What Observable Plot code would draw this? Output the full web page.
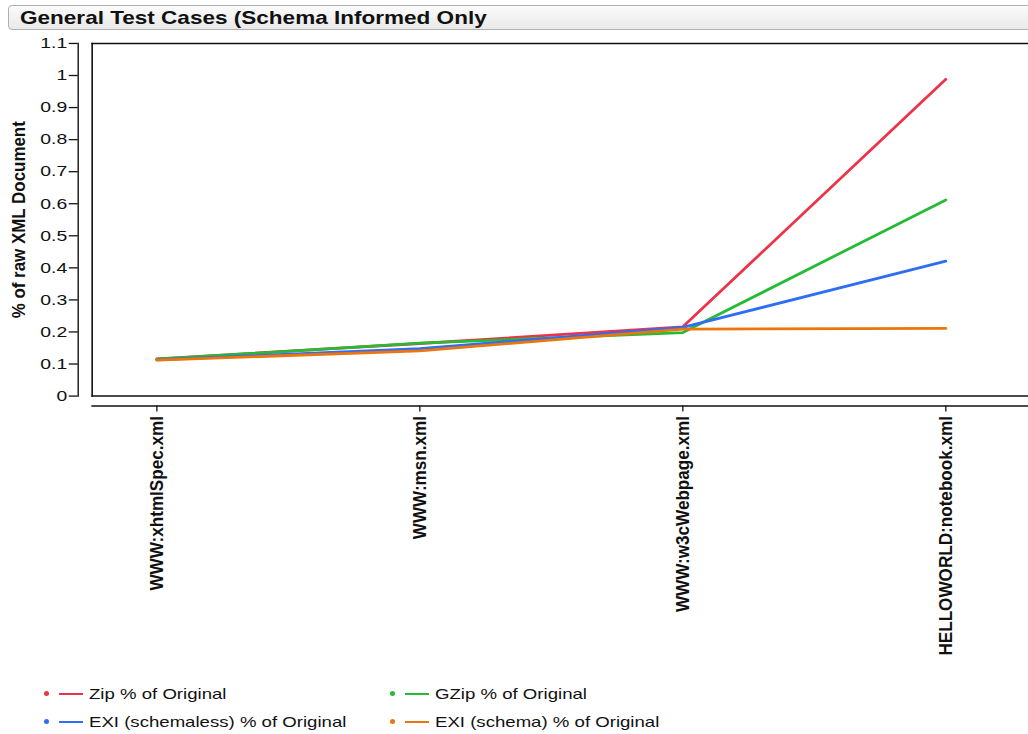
<!DOCTYPE html>
<html>
<head>
<meta charset="utf-8">
<script src="https://cdn.jsdelivr.net/npm/d3@7"></script>
<script src="https://cdn.jsdelivr.net/npm/@observablehq/plot@0.6"></script>
<style>
  html, body { margin: 0; padding: 0; background: #fff; }
  #wrap { position: relative; width: 1028px; height: 734px; overflow: hidden; font-family: "Liberation Sans", Arial, sans-serif; }
  #title { position: absolute; left: 8px; top: 5px; width: 1030px; height: 25px; box-sizing: border-box;
    border: 1px solid #b0b0b0; border-radius: 4px; background: linear-gradient(#fbfbfb, #e9e9e9);
    font-weight: bold; font-size: 19px; line-height: 23px; padding-left: 11px; color: #111; }
  #title span { display: inline-block; transform: scaleX(1.186); transform-origin: 0 50%; }
  #chart { position: absolute; left: 0; top: 30px; }
  .leg { position: absolute; display: flex; align-items: center; font-size: 15px; color: #111; }
  .leg .dot { width: 5px; height: 5px; border-radius: 50%; margin-right: 10px; }
  .leg .ln { width: 24px; height: 2px; margin-right: 6px; }
  .leg .tx { display: inline-block; transform: scaleX(1.24); transform-origin: 0 50%; }
</style>
</head>
<body>
<div id="wrap">
  <div id="title"><span>General Test Cases (Schema Informed Only</span></div>
  <div id="chart"></div>
  <div id="legend"></div>
</div>
<script>
const files = ["WWW:xhtmlSpec.xml", "WWW:msn.xml", "WWW:w3cWebpage.xml", "HELLOWORLD:notebook.xml"];
const seriesNames = ["Zip % of Original", "GZip % of Original", "EXI (schemaless) % of Original", "EXI (schema) % of Original"];
const seriesColors = ["#ec3348", "#25bb35", "#2f6df4", "#ea760c"];
const zipValues = [0.116, 0.164, 0.216, 0.988];
const gzipValues = [0.115, 0.165, 0.198, 0.612];
const exiSchemalessValues = [0.113, 0.148, 0.214, 0.421];
const exiSchemaValues = [0.112, 0.141, 0.209, 0.211];
const yTicks = [0, 0.1, 0.2, 0.3, 0.4, 0.5, 0.6, 0.7, 0.8, 0.9, 1, 1.1];
const yLabel = "% of raw XML Document";

const allValues = [zipValues, gzipValues, exiSchemalessValues, exiSchemaValues];
const data = [];
seriesNames.forEach((s, i) => files.forEach((f, j) => data.push({series: s, file: f, value: allValues[i][j]})));

const chart = Plot.plot({
  width: 1032, height: 640,
  marginLeft: 92, marginRight: 0, marginTop: 13, marginBottom: 273,
  style: {fontFamily: "'Liberation Sans', Arial, sans-serif", color: "#111", background: "transparent"},
  x: {type: "point", domain: files, padding: 0, insetLeft: 65, insetRight: 83},
  y: {domain: [0, 1.1]},
  color: {domain: seriesNames, range: seriesColors},
  marks: [
    Plot.frame({anchor: "left", strokeWidth: 1.6}),
    Plot.frame({anchor: "top", strokeWidth: 1.6}),
    Plot.frame({anchor: "bottom", strokeWidth: 1.6}),
    Plot.frame({anchor: "left", dx: -14, strokeWidth: 1.4}),
    Plot.frame({anchor: "bottom", dy: 10, strokeWidth: 1.6}),
    Plot.axisY({ticks: yTicks, tickSize: 9, tickPadding: 2, dx: -14, tickFormat: d3.format("~g"), label: null, fontSize: 15, strokeWidth: 1.3}),
    Plot.axisX({tickSize: 6, tickPadding: 4, dy: 10, tickRotate: -90, label: null, fontSize: 19, fontWeight: "bold", strokeWidth: 1.3}),
    Plot.text([yLabel], {frameAnchor: "left", textAnchor: "middle", dx: -73, rotate: -90, fontSize: 19, fontWeight: "bold", fill: "#111"}),
    Plot.line(data, {x: "file", y: "value", z: "series", stroke: "series", strokeWidth: 2.8, strokeLinecap: "round", strokeLinejoin: "round"})
  ]
});
document.getElementById("chart").appendChild(chart);

function squeeze(sel, factor) {
  chart.querySelectorAll(sel).forEach(t => {
    const len = t.getComputedTextLength();
    t.setAttribute("textLength", (len * factor).toFixed(1));
    t.setAttribute("lengthAdjust", "spacingAndGlyphs");
  });
}
squeeze('g[aria-label="x-axis tick label"] text', 0.905);
squeeze('g[aria-label="text"] text', 0.895);
squeeze('g[aria-label="y-axis tick label"] text', 1.3);

const legendPos = [[36, 694], [382, 694], [36, 722], [382, 722]];
const leg = document.getElementById("legend");
seriesNames.forEach((s, i) => {
  const d = document.createElement("div");
  d.className = "leg";
  d.style.left = legendPos[i][0] + 8 + "px";
  d.style.top = legendPos[i][1] - 9 + "px";
  d.innerHTML = `<span class="dot" style="background:${seriesColors[i]}"></span><span class="ln" style="background:${seriesColors[i]}"></span><span class="tx">${s}</span>`;
  leg.appendChild(d);
});
</script>
</body>
</html>
